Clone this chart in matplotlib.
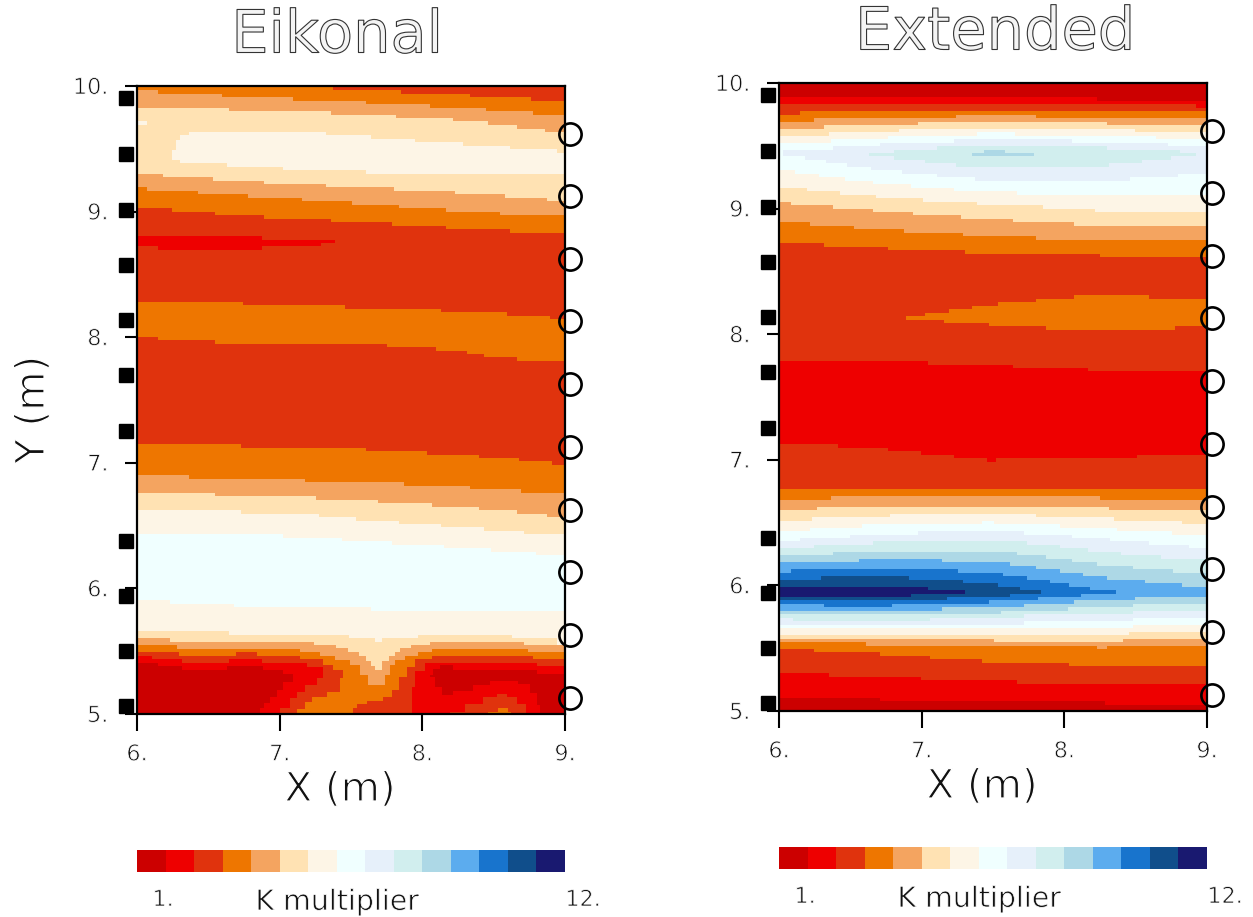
import numpy as np
from matplotlib import pyplot as plt
from matplotlib import patheffects as pe
from matplotlib.colors import ListedColormap

plt.rcParams['font.family'] = ['DejaVu Sans']

# K multiplier classes, low to high
k_colors = ['#cc0000', '#ee0000', '#e0330d', '#ee7600', '#f4a460', '#ffe2b3', '#fdf5e6', '#f0ffff',
            '#e6f0fa', '#d1eeee', '#add8e6', '#5cacee', '#1874cd', '#104e8b', '#191970']

# receivers / sources (m)
src_x = 5.923
src_y = [9.904, 9.459, 9.013, 8.575, 8.137, 7.699, 7.253, 6.377, 5.939, 5.502, 5.064]
rec_x = 9.035
rec_y = [9.618, 9.124, 8.623, 8.129, 7.627, 7.126, 6.624, 6.131, 5.629, 5.127]

x_ticks = [6, 7, 8, 9]
y_ticks = [5, 6, 7, 8, 9, 10]

# Each pair is one class boundary, as steps: x breaks and the y held after each break.
# Eikonal panel, top to bottom
e01x = [6, 7.376, 7.85, 8.334, 8.762, 9]
e01y = [10, 9.968, 9.936, 9.91, 9.88]
e02x = [6, 6.147, 6.596, 7.096, 7.605, 8.054, 8.446, 8.776, 9]
e02y = [9.968, 9.936, 9.91, 9.88, 9.857, 9.825, 9.798, 9.769]
e03x = [6, 6.645, 7.36, 7.815, 8.217, 8.46, 8.664, 8.86, 9]
e03y = [9.825, 9.801, 9.769, 9.745, 9.721, 9.689, 9.658, 9.634]
e04x = [6, 6.07]
e04y = [9.721]
e05x = [6, 6.07]
e05y = [9.689]
e06x = [6.245, 6.273, 6.30, 6.364, 7.325, 7.64, 7.949, 8.287, 8.614, 8.944, 9]
e06y = [9.49, 9.57, 9.61, 9.634, 9.61, 9.578, 9.554, 9.522, 9.498, 9.467]
e07x = [6, 6.30, 6.63, 7.023, 7.605, 9]
e07y = [9.411, 9.387, 9.355, 9.331, 9.299]
e08x = [6, 6.182, 6.533, 6.89, 7.325, 7.80, 8.229, 8.579, 8.874, 9]
e08y = [9.299, 9.275, 9.243, 9.22, 9.196, 9.164, 9.14, 9.108, 9.084]
e09x = [6, 6.07, 6.428, 6.778, 7.157, 7.507, 7.836, 8.166, 8.544, 9]
e09y = [9.196, 9.164, 9.14, 9.108, 9.084, 9.052, 9.029, 8.997, 8.973]
e10x = [6, 6.245, 6.547, 6.89, 7.36, 7.787, 8.166, 8.614, 9]
e10y = [9.029, 8.997, 8.973, 8.941, 8.917, 8.885, 8.861, 8.83]
e11x = [6, 6.876, 7.388]
e11y = [8.806, 8.774]
e12x = [6, 6.147, 6.876, 7.29, 7.388]
e12y = [8.726, 8.694, 8.726, 8.75]
e13x = [6, 6.743, 7.458, 8.131, 8.593, 8.895, 9]
e13y = [8.28, 8.256, 8.224, 8.2, 8.169, 8.145]
e14x = [6, 6.147, 6.547, 7.752, 8.096, 8.313, 8.432, 8.664, 9]
e14y = [8.002, 7.978, 7.946, 7.922, 7.89, 7.866, 7.842, 7.81]
e15x = [6, 6.729, 7.605, 8.033, 8.397, 8.678, 8.909, 9]
e15y = [7.15, 7.118, 7.094, 7.062, 7.038, 7.014, 6.982]
e16x = [6, 6.364, 7.178, 7.871, 8.334, 8.692, 9]
e16y = [6.903, 6.871, 6.847, 6.815, 6.791, 6.76]
e17x = [6, 6.547, 7.255, 7.689, 8.068, 8.397, 8.664, 8.874, 9]
e17y = [6.76, 6.736, 6.704, 6.68, 6.648, 6.624, 6.592, 6.568]
e18x = [6, 6.729, 7.276, 7.535, 7.836, 8.131, 8.432, 8.713, 9]
e18y = [6.624, 6.592, 6.568, 6.537, 6.513, 6.489, 6.457, 6.433]
e19x = [6, 7.023, 7.437, 7.787, 8.152, 8.481, 8.797, 9]
e19y = [6.433, 6.401, 6.377, 6.346, 6.322, 6.29, 6.266]
e20x = [6, 6.231, 6.68, 7.64, 9]
e20y = [5.908, 5.876, 5.852, 5.82]
e21x = [6, 6.645, 7.486, 7.668, 7.717, 7.97, 8.629, 8.944, 9]
e21y = [5.661, 5.629, 5.605, 5.573, 5.605, 5.629, 5.605, 5.549]
e22x = [6, 6.231, 7.241, 7.395, 7.479, 7.556, 7.605, 7.64, 7.668, 7.717, 7.766, 7.808, 7.843, 7.921, 8.054, 8.713, 9]
e22y = [5.605, 5.573, 5.549, 5.525, 5.494, 5.462, 5.422, 5.382, 5.35, 5.422, 5.462, 5.494, 5.525, 5.549, 5.573, 5.549]
e23x = [6, 6.28, 7.143, 7.283, 7.388, 7.493, 7.563, 7.621, 7.738, 7.773, 7.808, 7.879, 7.972, 8.068, 8.741, 9]
e23y = [5.549, 5.518, 5.494, 5.462, 5.43, 5.39, 5.31, 5.231, 5.31, 5.39, 5.43, 5.462, 5.494, 5.518, 5.494]
# bottom left lobes
e24x = [6, 6.294, 6.694, 6.841, 7.143, 7.306, 7.376, 7.442]
e24y = [5.494, 5.462, 5.494, 5.462, 5.438, 5.39, 5.35]
e25x = [6, 6.103, 6.313, 6.645, 6.879, 7.189, 7.306]
e25y = [5.462, 5.438, 5.406, 5.438, 5.406, 5.377]
e26x = [6, 6.15, 6.313, 6.629, 6.886, 7.026, 7.096]
e26y = [5.406, 5.382, 5.35, 5.382, 5.35, 5.318]
e27x = [6.862, 6.89, 6.932, 6.979, 7.026, 7.096]
e27y = [5.045, 5.09, 5.138, 5.191, 5.257]
e28x = [7.002, 7.072, 7.119, 7.178, 7.259, 7.306]
e28y = [5.045, 5.125, 5.178, 5.231, 5.284]
e29x = [7.119, 7.178, 7.224, 7.33, 7.423, 7.442]
e29y = [5.037, 5.098, 5.138, 5.178, 5.284]
# bottom right lobes
e30x = [7.516, 7.54, 7.61, 7.722, 7.785, 7.836, 7.89, 7.949, 8.065, 8.778, 9]
e30y = [5.045, 5.08, 5.104, 5.138, 5.191, 5.297, 5.377, 5.435, 5.462, 5.438]
e31x = [7.925, 7.949, 8.019, 8.801, 9]
e31y = [5.218, 5.345, 5.406, 5.382]
e32x = [8.054, 8.077, 8.124, 8.217, 8.801, 9]
e32y = [5.31, 5.356, 5.39, 5.35, 5.318]
e33x = [8.054, 8.089, 8.136, 8.217, 8.357, 8.474, 8.673, 8.755, 8.801, 8.825]
e33y = [5.297, 5.218, 5.151, 5.186, 5.231, 5.265, 5.239, 5.165, 5.072]
e34x = [8.194, 8.299, 8.428, 8.521, 8.591, 8.661, 8.726]
e34y = [5.019, 5.08, 5.133, 5.159, 5.133, 5.08]
e35x = [8.463, 8.533, 8.603, 8.619]
e35y = [5.019, 5.045, 5.019]

eik_base = 2
eik_layers = [(3, e01x, e01y), (4, e02x, e02y), (5, e03x, e03y), (6, e04x, e04y), (5, e05x, e05y),
              (6, e06x, e06y), (5, e07x, e07y), (4, e08x, e08y), (3, e09x, e09y), (2, e10x, e10y),
              (1, e11x, e11y), (2, e12x, e12y), (3, e13x, e13y), (2, e14x, e14y), (3, e15x, e15y),
              (4, e16x, e16y), (5, e17x, e17y), (6, e18x, e18y), (7, e19x, e19y), (6, e20x, e20y),
              (5, e21x, e21y), (4, e22x, e22y), (3, e23x, e23y), (2, e24x, e24y), (1, e25x, e25y),
              (0, e26x, e26y), (1, e27x, e27y), (2, e28x, e28y), (3, e29x, e29y), (2, e30x, e30y),
              (1, e31x, e31y), (0, e32x, e32y), (1, e33x, e33y), (2, e34x, e34y), (3, e35x, e35y)]

# Extended panel, top to bottom
x01x = [6, 8.229, 9]
x01y = [9.889, 9.857]
x02x = [6, 8.923, 9]
x02y = [9.833, 9.801]
x03x = [6, 6.147, 9]
x03y = [9.745, 9.777]
x04x = [6, 6.245, 7.241, 7.801, 9]
x04y = [9.69, 9.721, 9.745, 9.721]
x05x = [6, 6.315, 6.974, 8.299, 9]
x05y = [9.634, 9.666, 9.69, 9.666]
x06x = [6, 6.35, 6.841, 8.495, 9]
x06y = [9.578, 9.61, 9.634, 9.61]
x07x = [6, 6.364, 6.764, 7.388, 7.654, 8.643, 9]
x07y = [9.522, 9.554, 9.578, 9.61, 9.578, 9.554]
x08x = [6.03, 6.379, 6.708, 7.227, 8.054, 8.727, 9]
x08y = [9.467, 9.498, 9.522, 9.554, 9.522, 9.498]
x09x = [6.631, 6.806, 7.107, 8.299, 8.811, 8.923]
x09y = [9.443, 9.467, 9.498, 9.467, 9.443]
x10x = [7.353, 7.437, 7.584, 7.787]
x10y = [9.443, 9.467, 9.443]
x11x = [7.353, 7.787]
x11y = [9.419]
x12x = [6.631, 6.806, 7.023, 7.241, 8.313, 8.544, 8.748, 8.923]
x12y = [9.419, 9.387, 9.363, 9.331, 9.363, 9.387, 9.419]
x13x = [6, 6.182, 6.329, 6.477, 6.645, 6.862, 7.107, 7.374, 8.46, 8.797, 9]
x13y = [9.419, 9.387, 9.363, 9.331, 9.307, 9.275, 9.252, 9.22, 9.252, 9.275]
x14x = [6, 6.112, 6.28, 6.463, 6.659, 6.925, 7.227, 7.668, 9]
x14y = [9.307, 9.275, 9.252, 9.22, 9.196, 9.164, 9.14, 9.108]
x15x = [6, 6.196, 6.428, 6.68, 7.009, 7.388, 7.85, 8.215, 9]
x15y = [9.164, 9.14, 9.108, 9.084, 9.053, 9.029, 8.997, 8.973]
x16x = [6, 6.084, 6.379, 6.659, 6.939, 7.276, 7.64, 8.068, 9]
x16y = [9.053, 9.029, 8.997, 8.973, 8.949, 8.917, 8.893, 8.861]
x17x = [6, 6.217, 6.526, 6.876, 7.29, 7.801, 9]
x17y = [8.893, 8.861, 8.838, 8.806, 8.782, 8.75]
x18x = [6, 6.315, 6.764, 7.304, 8.25, 9]
x18y = [8.726, 8.694, 8.67, 8.639, 8.615]
x19x = [6.89, 7.023, 7.192, 7.353, 7.535, 7.801, 8.068, 8.593, 9]
x19y = [8.145, 8.169, 8.201, 8.225, 8.256, 8.28, 8.312, 8.28]
x20x = [6.89, 7.157, 7.472, 7.871, 8.776, 9]
x20y = [8.113, 8.089, 8.065, 8.033, 8.065]
x21x = [6, 7.044, 7.64, 8.166, 9]
x21y = [7.787, 7.755, 7.731, 7.708]
x22x = [6, 6.414, 6.764, 6.995, 7.227, 7.458, 7.521, 8.509, 9]
x22y = [7.126, 7.094, 7.07, 7.038, 7.014, 6.982, 7.014, 7.038]
x23x = [6, 9]
x23y = [6.767]
x24x = [6, 6.364, 8.25, 9]
x24y = [6.68, 6.712, 6.68]
x25x = [6, 6.266, 8.313, 9]
x25y = [6.6, 6.624, 6.6]
x26x = [6, 6.231, 6.778, 7.801, 8.348, 8.825, 9]
x26y = [6.513, 6.545, 6.568, 6.545, 6.513, 6.489]
x27x = [6, 6.217, 6.582, 7.423, 7.507, 7.97, 8.369, 8.755, 9]
x27y = [6.433, 6.457, 6.489, 6.513, 6.489, 6.457, 6.433, 6.401]
x28x = [6, 6.147, 6.498, 6.974, 7.717, 8.054, 8.32, 8.593, 8.874, 9]
x28y = [6.353, 6.377, 6.401, 6.433, 6.401, 6.377, 6.353, 6.322, 6.298]
x29x = [6, 6.245, 6.659, 7.738, 7.97, 8.166, 8.397, 8.678, 9]
x29y = [6.298, 6.322, 6.353, 6.322, 6.298, 6.266, 6.242, 6.21]
x30x = [6, 6.379, 7.668, 7.871, 8.054, 8.229, 8.481, 8.762, 9]
x30y = [6.242, 6.266, 6.242, 6.21, 6.186, 6.154, 6.131, 6.099]
x31x = [6, 6.561, 7.143, 7.619, 7.801, 7.97, 8.131, 8.299, 8.565, 8.825, 9]
x31y = [6.186, 6.21, 6.186, 6.154, 6.131, 6.099, 6.075, 6.043, 6.019, 5.987]
x32x = [6, 6.084, 7.255, 7.57, 7.738, 7.9, 8.033, 8.18, 8.362]
x32y = [6.099, 6.131, 6.099, 6.075, 6.043, 6.019, 5.987, 5.963]
x33x = [6, 6.294, 6.911, 7.29, 7.535, 7.689, 7.836]
x33y = [6.043, 6.075, 6.043, 6.019, 5.987, 5.963]
x34x = [6, 7.044, 7.304]
x34y = [5.987, 5.963]
x35x = [6, 6.925, 7.304]
x35y = [5.908, 5.931]
x36x = [6, 7.178, 7.619, 7.836]
x36y = [5.884, 5.908, 5.931]
x37x = [6, 6.315, 6.792, 7.472, 7.815, 8.117, 8.362]
x37y = [5.852, 5.828, 5.852, 5.884, 5.908, 5.931]
x38x = [6, 7.143, 7.717, 8.068, 8.495, 9]
x38y = [5.796, 5.828, 5.852, 5.884, 5.908]
x39x = [6, 7.556, 8.026, 8.481, 9]
x39y = [5.772, 5.796, 5.828, 5.852]
x40x = [6, 6.10, 7.058, 7.717, 8.481, 9]
x40y = [5.74, 5.717, 5.74, 5.772, 5.796]
x41x = [6, 7.717, 8.481, 9]
x41y = [5.685, 5.717, 5.74]
x42x = [6, 8.481, 9]
x42y = [5.661, 5.685]
x43x = [6, 8.45, 9]
x43y = [5.605, 5.629]
x44x = [6, 7.507, 8.411, 9]
x44y = [5.573, 5.549, 5.573]
x45x = [6, 6.61, 8.229, 8.299, 9]
x45y = [5.549, 5.518, 5.494, 5.518]
x46x = [6, 6.245, 6.708, 7.058, 7.423, 8.033, 9]
x46y = [5.494, 5.47, 5.438, 5.414, 5.382, 5.358]
x47x = [6, 6.35, 6.995, 7.668, 9]
x47y = [5.303, 5.271, 5.247, 5.215]
x48x = [6, 6.708, 8.285, 9]
x48y = [5.104, 5.08, 5.048]

ext_base = 0
ext_layers = [(1, x01x, x01y), (2, x02x, x02y), (3, x03x, x03y), (4, x04x, x04y), (5, x05x, x05y),
              (6, x06x, x06y), (7, x07x, x07y), (8, x08x, x08y), (9, x09x, x09y), (10, x10x, x10y),
              (9, x11x, x11y), (8, x12x, x12y), (7, x13x, x13y), (6, x14x, x14y), (5, x15x, x15y),
              (4, x16x, x16y), (3, x17x, x17y), (2, x18x, x18y), (3, x19x, x19y), (2, x20x, x20y),
              (1, x21x, x21y), (2, x22x, x22y), (3, x23x, x23y), (4, x24x, x24y), (5, x25x, x25y),
              (6, x26x, x26y), (7, x27x, x27y), (8, x28x, x28y), (9, x29x, x29y), (10, x30x, x30y),
              (11, x31x, x31y), (12, x32x, x32y), (13, x33x, x33y), (14, x34x, x34y), (13, x35x, x35y),
              (12, x36x, x36y), (11, x37x, x37y), (10, x38x, x38y), (9, x39x, x39y), (8, x40x, x40y),
              (7, x41x, x41y), (6, x42x, x42y), (5, x43x, x43y), (4, x44x, x44y), (3, x45x, x45y),
              (2, x46x, x46y), (1, x47x, x47y), (0, x48x, x48y)]

W, H = 1253, 917

# white outline over the glyph edge, makes the DejaVu strokes thinner like the original font
thin_big = [pe.Stroke(linewidth=0.9, foreground='white')]
thin_small = [pe.Stroke(linewidth=0.55, foreground='white')]


def px_box(left, top, right, bottom):
    return [left / W, 1 - bottom / H, (right - left) / W, (bottom - top) / H]


def label(px, py, s, size, thin=thin_small, **kw):
    return fig.text(px / W, 1 - py / H, s, fontsize=size, ha='center', va='center', color='#111111',
                    path_effects=thin, **kw)


def panel(box, base, layers):
    ax = fig.add_axes(box)
    ax.set_xlim(6, 9)
    ax.set_ylim(5, 10)
    ax.set_facecolor(k_colors[base])
    for k, xs, ys in layers:
        ax.fill_between(xs, ys + ys[-1:], 5, step='post', color=k_colors[k], lw=0)
    ax.plot([src_x] * len(src_y), src_y, 's', color='k', ms=9.4, clip_on=False, zorder=5)
    ax.plot([rec_x] * len(rec_y), rec_y, 'o', mfc='none', mec='k', mew=1.9, ms=16, clip_on=False, zorder=5)
    ax.set_xticks(x_ticks)
    ax.set_xticklabels([str(v) + '.' for v in x_ticks])
    ax.set_yticks(y_ticks)
    ax.set_yticklabels([str(v) + '.' for v in y_ticks])
    ax.tick_params(axis='x', length=12, width=1.5, pad=10, labelsize=16, labelcolor='#111111')
    ax.tick_params(axis='y', length=8.6, width=1.5, pad=12, labelsize=16, labelcolor='#111111')
    for t in ax.get_xticklabels() + ax.get_yticklabels():
        t.set_path_effects(thin_small)
    for s in ax.spines.values():
        s.set_linewidth(1.6)
    return ax


def colorbar(box):
    cax = fig.add_axes(box)
    cax.pcolormesh(np.arange(len(k_colors))[None, :], cmap=ListedColormap(k_colors))
    cax.axis('off')


def title(px, py, s):
    # hollow letters
    t = label(px, py, s, 42.5)
    t.set_color('#f4f4f4')
    t.set_path_effects([pe.Stroke(linewidth=0.8, foreground='#333333')])


fig = plt.figure(figsize=(W / 100, H / 100), dpi=100)

panel(px_box(137, 86, 565, 714), eik_base, eik_layers)
panel(px_box(779, 83, 1207, 711), ext_base, ext_layers)
colorbar(px_box(137, 850, 565, 872))
colorbar(px_box(779, 847, 1207, 869))

title(337, 36, 'Eikonal')
title(995, 33, 'Extended')
label(340, 790, 'X (m)', 29, thin=thin_big)
label(982, 787, 'X (m)', 29, thin=thin_big)
label(33, 410, 'Y (m)', 29, thin=thin_big, rotation=90)
label(163, 900, '1.', 16)
label(337, 902, 'K multiplier', 20.5)
label(583, 900, '12.', 16)
label(805, 897, '1.', 16)
label(979, 899, 'K multiplier', 20.5)
label(1225, 897, '12.', 16)

fig.savefig('out.png', dpi=100)
